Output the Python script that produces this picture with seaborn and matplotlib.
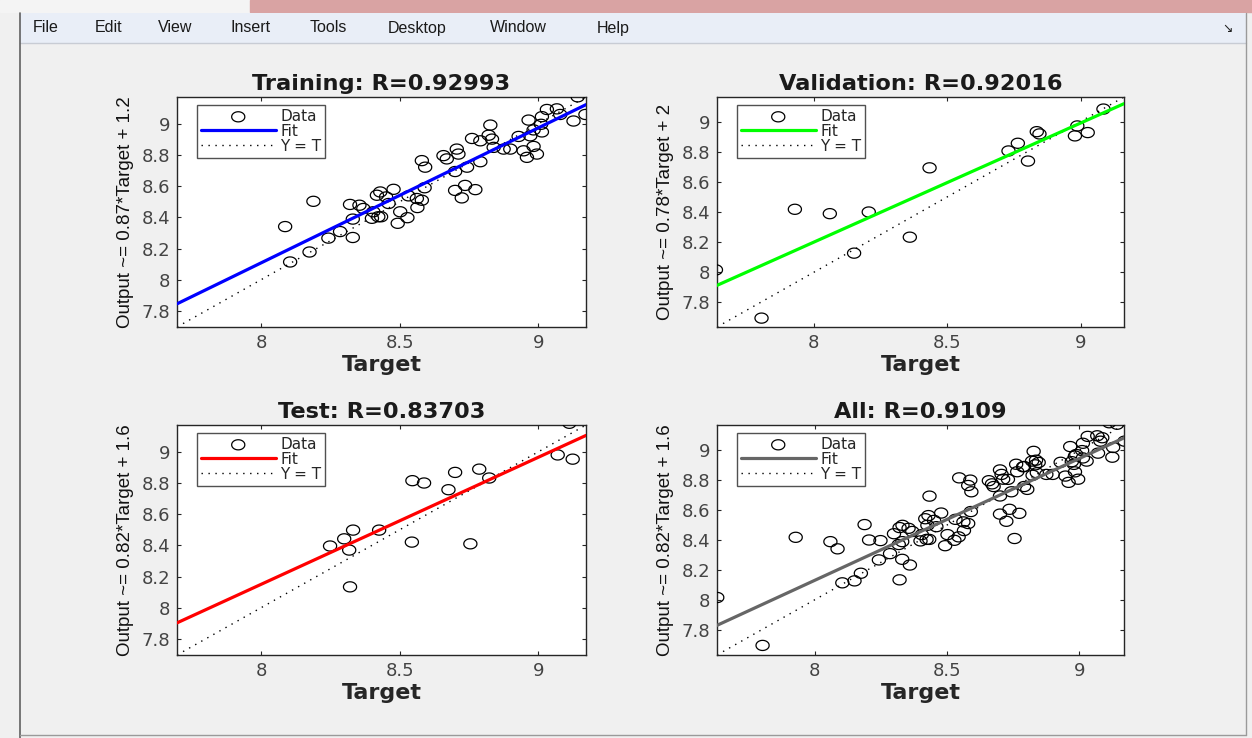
import numpy as np
import matplotlib
matplotlib.use("Agg")
import matplotlib.pyplot as plt
from matplotlib.patches import Rectangle
from matplotlib.lines import Line2D
import seaborn as sns

# ---- data (target, output) ----
train_t = [9.142, 9.17, 9.031, 9.067, 9.079, 9.013, 8.965, 9.127, 9.010, 8.983,
           9.013, 8.971, 8.929, 8.899, 8.947, 8.983, 8.995, 8.959, 8.827, 8.821,
           8.761, 8.791, 8.833, 8.839, 8.875, 8.706, 8.712, 8.658, 8.670, 8.580,
           8.592, 8.700, 8.743, 8.791, 8.736, 8.773, 8.700, 8.724, 8.590, 8.478,
           8.430, 8.418, 8.451, 8.532, 8.562, 8.580, 8.460, 8.355, 8.321, 8.369,
           8.405, 8.423, 8.400, 8.433, 8.564, 8.502, 8.528, 8.493, 8.331, 8.331,
           8.285, 8.243, 8.189, 8.087, 8.175, 8.105]
train_o = [9.173, 9.06, 9.092, 9.096, 9.06, 9.046, 9.024, 9.018, 8.997, 8.961,
           8.948, 8.923, 8.919, 8.838, 8.827, 8.855, 8.806, 8.785, 8.992, 8.927,
           8.906, 8.891, 8.902, 8.849, 8.838, 8.838, 8.806, 8.796, 8.775, 8.764,
           8.722, 8.694, 8.722, 8.757, 8.605, 8.578, 8.573, 8.525, 8.590, 8.580,
           8.563, 8.542, 8.531, 8.538, 8.521, 8.510, 8.489, 8.478, 8.483, 8.457,
           8.436, 8.404, 8.394, 8.404, 8.463, 8.436, 8.398, 8.362, 8.389, 8.271,
           8.309, 8.267, 8.503, 8.341, 8.178, 8.114]

val_t = [9.086, 8.988, 8.979, 9.027, 8.836, 8.846, 8.765, 8.730, 8.803, 8.434,
         7.929, 8.060, 8.206, 8.360, 8.151, 7.633, 7.804]
val_o = [9.083, 8.971, 8.905, 8.927, 8.933, 8.918, 8.856, 8.805, 8.738, 8.693,
         8.418, 8.389, 8.400, 8.233, 8.127, 8.016, 7.696]

test_t = [9.112, 9.070, 9.124, 8.787, 8.700, 8.823, 8.546, 8.588, 8.676, 8.426,
          8.332, 8.300, 8.249, 8.318, 8.544, 8.755, 8.321]
test_o = [9.183, 8.980, 8.953, 8.889, 8.868, 8.832, 8.815, 8.800, 8.757, 8.498,
          8.498, 8.442, 8.396, 8.370, 8.421, 8.410, 8.134]

all_t = train_t + val_t + test_t
all_o = train_o + val_o + test_o

titles = ["Training: R=0.92993", "Validation: R=0.92016", "Test: R=0.83703", "All: R=0.9109"]
ylabels = ["Output ~= 0.87*Target + 1.2", "Output ~= 0.78*Target + 2",
           "Output ~= 0.82*Target + 1.6", "Output ~= 0.82*Target + 1.6"]
fit_slope = [0.866, 0.79, 0.815, 0.815]
fit_icept = [1.18, 1.88, 1.63, 1.61]
limits = [(7.697, 9.172), (7.637, 9.163), (7.697, 9.172), (7.632, 9.168)]
fit_colors = ["#0000ff", "#00ff00", "#ff0000", "#666666"]
targets = [train_t, val_t, test_t, all_t]
outputs = [train_o, val_o, test_o, all_o]

xticks = [8, 8.5, 9]
xticklabels = ["8", "8.5", "9"]
yticks = [7.8, 8, 8.2, 8.4, 8.6, 8.8, 9]
yticklabels = ["7.8", "8", "8.2", "8.4", "8.6", "8.8", "9"]

menu_items = ["File", "Edit", "View", "Insert", "Tools", "Desktop", "Window", "Help"]
menu_x = [33, 95, 158, 230, 310, 388, 490, 597]

W, H = 1252, 738
sns.set_theme(style="white")
plt.rcParams["font.family"] = ["DejaVu Sans"]

fig = plt.figure(figsize=(W / 100, H / 100), dpi=100, facecolor="#f0f0f0")

# window chrome: title strip, menu bar, panel frame
fig.add_artist(Rectangle((0, 1 - 12 / H), 1, 12 / H, transform=fig.transFigure,
                         color="#f4f4f4", zorder=0))
fig.add_artist(Rectangle((250 / W, 1 - 12 / H), 1 - 250 / W, 12 / H, transform=fig.transFigure,
                         color="#d9a3a3", zorder=0))
fig.add_artist(Rectangle((20 / W, 1 - 43 / H), 1226 / W, 30 / H, transform=fig.transFigure,
                         facecolor="#e9eef7", edgecolor="none", zorder=0))
fig.add_artist(Line2D([20 / W, 1246 / W], [1 - 43 / H, 1 - 43 / H], transform=fig.transFigure,
                      color="#c8ccd4", lw=1))
fig.add_artist(Line2D([20 / W, 20 / W], [0, 1 - 13 / H], transform=fig.transFigure,
                      color="#606060", lw=1.2))
fig.add_artist(Line2D([1246 / W, 1246 / W], [3 / H, 1 - 13 / H], transform=fig.transFigure,
                      color="#9a9a9a", lw=1))
fig.add_artist(Line2D([20 / W, 1246 / W], [3 / H, 3 / H], transform=fig.transFigure,
                      color="#9a9a9a", lw=1))
for name, mx in zip(menu_items, menu_x):
    fig.text(mx / W, 1 - 28 / H, name, fontsize=11.5, va="center", ha="left",
             color="#1a1a1a", family=["Liberation Sans"])
fig.text(1228 / W, 1 - 28 / H, "\u2198", fontsize=9, va="center", ha="center", color="#222222")

# axes positions (pixels: left, top, width, height)
boxes = [(177, 97, 409, 230), (717, 97, 407, 230), (177, 425, 409, 230), (717, 425, 407, 230)]

ang = np.linspace(0, 2 * np.pi, 41)
ellipse = np.column_stack([1.3 * np.cos(ang), np.sin(ang)])

for i in range(4):
    l, t, w, h = boxes[i]
    ax = fig.add_axes([l / W, 1 - (t + h) / H, w / W, h / H])
    lo, hi = limits[i]
    xs = np.array([lo, hi])

    sns.scatterplot(x=targets[i], y=outputs[i], ax=ax, marker=ellipse, s=90,
                    facecolor="none", edgecolor="black", linewidth=0.9,
                    label="Data", zorder=3)
    sns.lineplot(x=xs, y=fit_slope[i] * xs + fit_icept[i], ax=ax, color=fit_colors[i],
                 lw=2.3, label="Fit", zorder=4)
    sns.lineplot(x=xs, y=xs, ax=ax, color="black", lw=1.0, linestyle=(0, (1, 4)),
                 label="Y = T", zorder=2)

    ax.set_xlim(lo, hi)
    ax.set_ylim(lo, hi)
    ax.set_xticks(xticks)
    ax.set_xticklabels(xticklabels)
    ax.set_yticks(yticks)
    ax.set_yticklabels(yticklabels)
    ax.tick_params(direction="in", length=3, width=0.8, colors="#262626",
                   labelcolor="#444444", labelsize=13, top=True, right=True,
                   bottom=True, left=True, pad=5)
    for sp in ax.spines.values():
        sp.set_color("#262626")
        sp.set_linewidth(1.0)
    ax.set_facecolor("white")

    ax.set_title(titles[i], fontsize=16.2, fontweight="bold", color="#1a1a1a", pad=5)
    ax.set_xlabel("Target", fontsize=16, fontweight="bold", color="#262626", labelpad=2)
    ax.set_ylabel(ylabels[i], fontsize=13.5, color="#111111", labelpad=5,
                  family=["Liberation Sans"])

    leg = ax.legend(loc="upper left", bbox_to_anchor=(20 / w, 1 - 8 / h), borderaxespad=0,
                    fontsize=11, frameon=True, fancybox=False, edgecolor="#262626",
                    handlelength=4.9, handletextpad=0.3, labelspacing=0.0,
                    borderpad=0.25, scatterpoints=1)
    leg.get_frame().set_linewidth(1.0)

fig.savefig("out.png", dpi=100, facecolor=fig.get_facecolor())
